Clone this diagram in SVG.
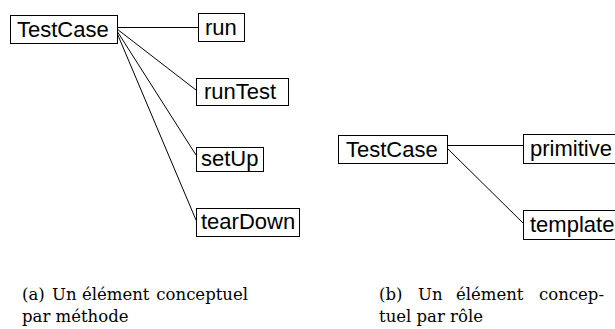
<svg xmlns="http://www.w3.org/2000/svg" width="615" height="329" viewBox="0 0 615 329">
<style>
.box{fill:#fff;stroke:#000;stroke-width:1}
.lbl{font-family:"Liberation Sans",Arial,sans-serif;font-size:22px;fill:#000}
.cap{font-family:"DejaVu Serif","Liberation Serif",serif;font-size:16.5px;fill:#000}
.end{text-anchor:end}
.conn line{stroke:#000;stroke-width:1}
</style>
<rect width="615" height="329" fill="#fff"/>
<g id="connectors" class="conn">
<line x1="117" y1="27.5" x2="198" y2="27.5"/>
<line x1="117" y1="29" x2="196" y2="90"/>
<line x1="117" y1="31" x2="196" y2="155"/>
<line x1="117" y1="33" x2="196" y2="220"/>
<line x1="447" y1="145.5" x2="523" y2="145.5"/>
<line x1="447" y1="148" x2="523" y2="223"/>
</g>
<g id="testcase-a"><rect class="box" x="10.5" y="15.5" width="107" height="28"/><text class="lbl" x="17" y="37">TestCase</text></g>
<g id="run"><rect class="box" x="198.5" y="13.5" width="46" height="28"/><text class="lbl" x="205" y="35">run</text></g>
<g id="runTest"><rect class="box" x="196.5" y="78.5" width="92" height="27"/><text class="lbl" x="204" y="99">runTest</text></g>
<g id="setUp"><rect class="box" x="196.5" y="147.5" width="67" height="24"/><text class="lbl" x="201" y="166">setUp</text></g>
<g id="tearDown"><rect class="box" x="196.5" y="208.5" width="103" height="28"/><text class="lbl" x="201" y="229">tearDown</text></g>
<g id="testcase-b"><rect class="box" x="338.5" y="135.5" width="109" height="28"/><text class="lbl" x="346" y="157">TestCase</text></g>
<g id="primitive"><rect class="box" x="523.5" y="134.5" width="100" height="29"/><text class="lbl" x="530" y="156">primitive</text></g>
<g id="template"><rect class="box" x="523.5" y="210.5" width="100" height="29"/><text class="lbl" x="530" y="232">template</text></g>
<g id="captions">
<text class="cap" y="300"><tspan x="22">(a)</tspan><tspan x="52">Un</tspan><tspan x="82">élément</tspan><tspan class="end" x="248">conceptuel</tspan></text>
<text class="cap" x="22" y="322">par méthode</text>
<text class="cap" y="300"><tspan x="379">(b)</tspan><tspan x="418">Un</tspan><tspan x="456">élément</tspan><tspan class="end" x="604">concep-</tspan></text>
<text class="cap" x="379" y="322">tuel par rôle</text>
</g>
</svg>
